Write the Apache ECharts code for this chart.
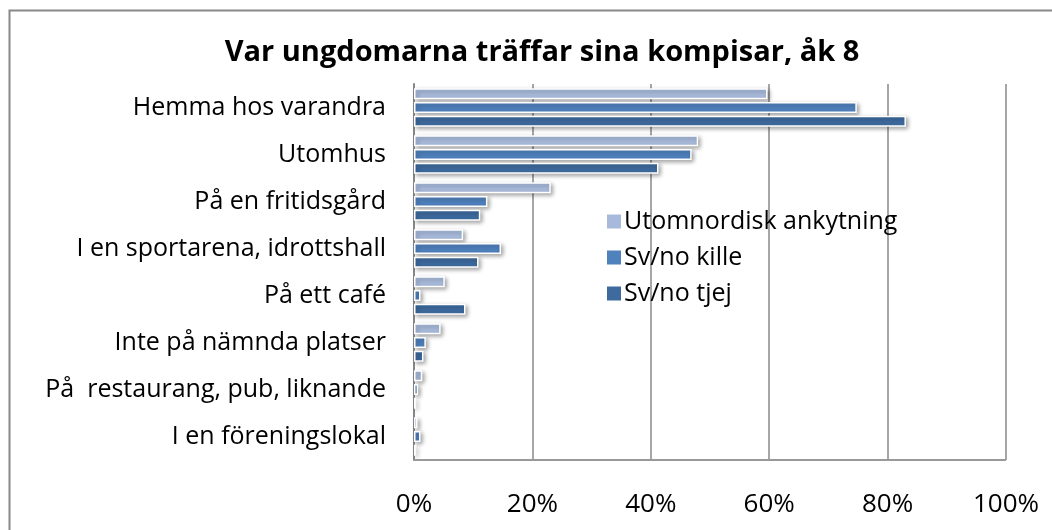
<!DOCTYPE html>
<html>
<head>
<meta charset="utf-8">
<script src="https://cdn.jsdelivr.net/npm/echarts@6/dist/echarts.min.js"></script>
<style>
  html, body { margin: 0; padding: 0; background: #fff; }
  #J_Chart { width: 1052px; height: 530px; }
</style>
</head>
<body>
<div id="J_Chart"></div>
<script>
// kategorier, uppifrån och ned
var categories = [
    'Hemma hos varandra',
    'Utomhus',
    'På en fritidsgård',
    'I en sportarena, idrottshall',
    'På ett café',
    'Inte på nämnda platser',
    'På  restaurang, pub, liknande',
    'I en föreningslokal'
];
var seriesNames = ['Utomnordisk ankytning', 'Sv/no kille', 'Sv/no tjej'];
// andelar i procent
var utomnordisk = [59.7, 48.0, 23.1, 8.3, 5.2, 4.5, 1.4, 0.6];
var svKille = [74.8, 46.9, 12.4, 14.7, 1.1, 2.0, 0.7, 1.1];
var svTjej = [83.1, 41.3, 11.2, 10.9, 8.7, 1.6, 0.3, 0.3];
var xTicks = [0, 20, 40, 60, 80, 100];

var colors = ['#a8badb', '#4f81bd', '#3e6a9e'];
var fontName = 'Open Sans';

var chart = echarts.init(document.getElementById('J_Chart'));

function barSeries(name, data, color) {
    return {
        name: name,
        type: 'bar',
        data: data,
        barWidth: 11,
        barGap: '25%',
        itemStyle: {
            color: color,
            borderColor: '#fff',
            borderWidth: 1.5,
            shadowColor: 'rgba(0,0,0,0.35)',
            shadowBlur: 4,
            shadowOffsetX: 2,
            shadowOffsetY: 2
        }
    };
}

var option = {
    backgroundColor: '#fff',
    animation: false,
    textStyle: { fontFamily: fontName },
    title: {
        text: 'Var ungdomarna träffar sina kompisar, åk 8',
        left: 537,
        textAlign: 'center',
        top: 33,
        textStyle: { fontSize: 29, fontWeight: 'bold', color: '#000', fontFamily: fontName }
    },
    legend: {
        orient: 'vertical',
        left: 600,
        top: 204,
        itemWidth: 16,
        itemHeight: 16,
        itemGap: 11,
        icon: 'rect',
        data: seriesNames,
        textStyle: { fontSize: 25, color: '#000', fontFamily: fontName, padding: [0, 0, 0, -3] }
    },
    grid: { left: 414, right: 46, top: 84, bottom: 70, containLabel: false },
    xAxis: {
        type: 'value',
        min: xTicks[0],
        max: xTicks[xTicks.length - 1],
        interval: 20,
        axisLine: { show: false },
        axisTick: { show: false },
        axisLabel: {
            margin: 32,
            fontSize: 26,
            color: '#000',
            formatter: '{value}%'
        },
        splitLine: { lineStyle: { color: '#888', width: 1.5 } }
    },
    yAxis: {
        type: 'category',
        data: categories,
        inverse: true,
        axisLine: { lineStyle: { color: '#888', width: 2 } },
        axisTick: { show: false },
        axisLabel: { margin: 28, fontSize: 25, color: '#000' }
    },
    graphic: [
        { type: 'rect', shape: { x: 9.5, y: 10.5, width: 1100, height: 600 }, style: { fill: 'none', stroke: '#888', lineWidth: 2 }, z: -1 },
        { type: 'line', shape: { x1: 414, y1: 460, x2: 1006, y2: 460 }, style: { stroke: '#999', lineWidth: 2 }, z: 5 }
    ],
    series: [
        barSeries(seriesNames[0], utomnordisk, colors[0]),
        barSeries(seriesNames[1], svKille, colors[1]),
        barSeries(seriesNames[2], svTjej, colors[2])
    ]
};

chart.setOption(option);
</script>
</body>
</html>
